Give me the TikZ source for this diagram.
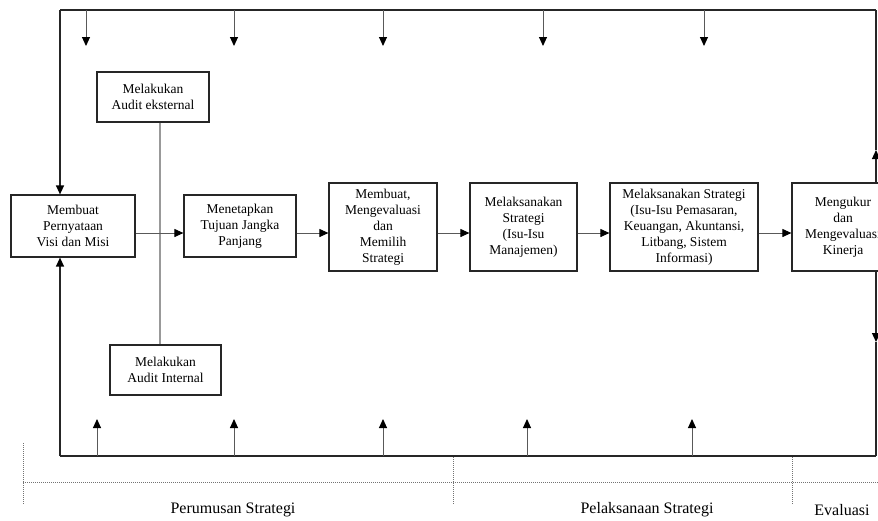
\documentclass[tikz,border=0pt]{standalone}
\usepackage{fontspec}
\setmainfont{Liberation Serif}
\usetikzlibrary{arrows.meta, positioning, calc}

\begin{document}
\begin{tikzpicture}[
    x=1pt, y=-1pt,
    box/.style={draw=black!85, line width=1.2pt, fill=white, align=center, inner sep=2pt,
        font=\fontsize{13.5}{16}\selectfont},
    arrow/.style={-{Triangle[length=9pt,width=8pt,black]}, draw=black!65, line width=1pt},
    frame/.style={draw=black!85, line width=1.3pt},
    auditline/.style={draw=black!40, line width=1.6pt},
    timeline/.style={draw=black!55, line width=0.9pt, dash pattern=on 1pt off 1pt},
    phaselabel/.style={font=\fontsize{16}{18}\selectfont}
]
\useasboundingbox (0,0) rectangle (878,520);
\clip (0,0) rectangle (878,520);

% Frame corners and feedback points
\coordinate (tl) at (60,10);
\coordinate (tr) at (876,10);
\coordinate (bl) at (60,456);
\coordinate (br) at (876,456);
\coordinate (upfb) at (876,150);
\coordinate (downfb) at (876,342);
\coordinate (flow) at (0,233);
\coordinate (auditx) at (160,0);

% Audit boxes
\node[box, minimum width=112, minimum height=50] (ekst) at (153,97) {Melakukan\\Audit eksternal};
\node[box, minimum width=111, minimum height=50] (intl) at (165.5,370) {Melakukan\\Audit Internal};
\draw[auditline] (ekst.south -| auditx) -- (intl.north -| auditx);

% Main process boxes
\node[box, minimum width=124, minimum height=62] (visi) at (73,226) {Membuat\\Pernyataan\\Visi dan Misi};
\node[box, minimum width=112, minimum height=62] (tujuan) at (240,226) {Menetapkan\\Tujuan Jangka\\Panjang};
\node[box, minimum width=108, minimum height=88] (memilih) at (383,227) {Membuat,\\Mengevaluasi\\dan\\Memilih\\Strategi};
\node[box, minimum width=107, minimum height=88] (manaj) at (523.5,227) {Melaksanakan\\Strategi\\(Isu-Isu\\Manajemen)};
\node[box, minimum width=148, minimum height=88] (fungsi) at (684,227) {Melaksanakan Strategi\\(Isu-Isu Pemasaran,\\Keuangan, Akuntansi,\\Litbang, Sistem\\Informasi)};
\node[box, minimum width=102, minimum height=88] (kinerja) at (843,227) {Mengukur\\dan\\Mengevaluasi\\Kinerja};

% Flow between boxes
\draw[arrow] (visi.east |- flow) -- (tujuan.west |- flow);
\draw[arrow] (tujuan.east |- flow) -- (memilih.west |- flow);
\draw[arrow] (memilih.east |- flow) -- (manaj.west |- flow);
\draw[arrow] (manaj.east |- flow) -- (fungsi.west |- flow);
\draw[arrow] (fungsi.east |- flow) -- (kinerja.west |- flow);

% Feedback frame
\draw[frame] (tr) -- (tl);
\draw[frame, -{Triangle[length=9pt,width=8pt,black]}] (tl) -- (tl |- visi.north);
\draw[frame] (br) -- (bl);
\draw[frame, -{Triangle[length=9pt,width=8pt,black]}] (bl) -- (bl |- visi.south);
\draw[frame, -{Triangle[length=9pt,width=8pt,black]}] (tr |- kinerja.north) -- (upfb);
\draw[frame] (upfb) -- (tr);
\draw[frame, -{Triangle[length=9pt,width=8pt,black]}] (tr |- kinerja.south) -- (downfb);
\draw[frame] (downfb) -- (br);

% Feedback drops
\foreach \x [count=\i] in {86,234,383,543,704} {
    \coordinate (dtop\i) at (\x,10);
    \coordinate (dtip\i) at (\x,46);
    \draw[arrow] (dtop\i) -- (dtip\i);
}
\foreach \x [count=\i] in {97,234,383,527,692} {
    \coordinate (ubot\i) at (\x,456);
    \coordinate (utip\i) at (\x,419);
    \draw[arrow] (ubot\i) -- (utip\i);
}

% Phases
\coordinate (t0) at (23,482);
\coordinate (t1) at (878,482);
\draw[timeline] (t0) -- (t1);
\draw[timeline] (23,443) -- (23,505);
\draw[timeline] (453,457) -- (453,505);
\draw[timeline] (792,457) -- (792,505);
\node[phaselabel] (rumus) at (233,510) {Perumusan Strategi};
\node[phaselabel] (laksana) at (647,510) {Pelaksanaan Strategi};
\node[phaselabel] (eval) at (842,510) {Evaluasi};

\end{tikzpicture}
\end{document}
